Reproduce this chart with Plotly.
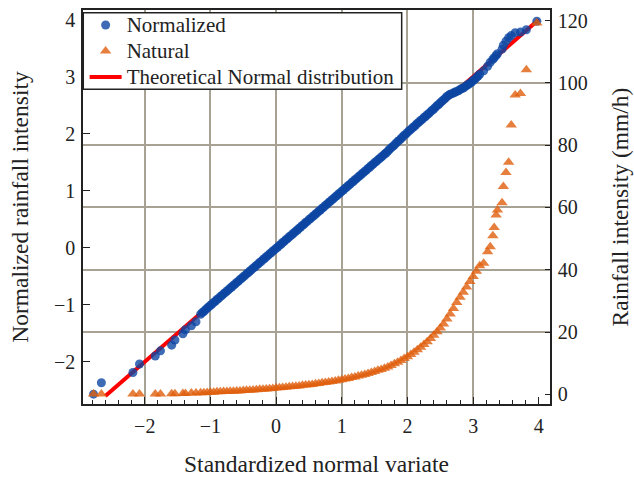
import plotly.graph_objects as go

# ---------------- data ----------------
# standardized normal variate positions
z_low = [-2.78, -2.66, -2.18, -2.08, -1.84, -1.76, -1.59, -1.54, -1.42, -1.38, -1.29, -1.22]
z_high = [3.16, 3.22, 3.26, 3.30, 3.32, 3.35, 3.37, 3.44, 3.46, 3.50,
          3.54, 3.58, 3.64, 3.72, 3.81, 3.97]

z_dense_norm = [-1.150, -1.125, -1.100, -1.075, -1.050, -1.025, -1.000, -0.975, -0.950, -0.925,
                -0.900, -0.875, -0.850, -0.825, -0.800, -0.775, -0.750, -0.725, -0.700, -0.675,
                -0.650, -0.625, -0.600, -0.575, -0.550, -0.525, -0.500, -0.475, -0.450, -0.425,
                -0.400, -0.375, -0.350, -0.325, -0.300, -0.275, -0.250, -0.225, -0.200, -0.175,
                -0.150, -0.125, -0.100, -0.075, -0.050, -0.025, 0.000, 0.025, 0.050, 0.075,
                0.100, 0.125, 0.150, 0.175, 0.200, 0.225, 0.250, 0.275, 0.300, 0.325,
                0.350, 0.375, 0.400, 0.425, 0.450, 0.475, 0.500, 0.525, 0.550, 0.575,
                0.600, 0.625, 0.650, 0.675, 0.700, 0.725, 0.750, 0.775, 0.800, 0.825,
                0.850, 0.875, 0.900, 0.925, 0.950, 0.975, 1.000, 1.025, 1.050, 1.075,
                1.100, 1.125, 1.150, 1.175, 1.200, 1.225, 1.250, 1.275, 1.300, 1.325,
                1.350, 1.375, 1.400, 1.425, 1.450, 1.475, 1.500, 1.525, 1.550, 1.575,
                1.600, 1.625, 1.650, 1.675, 1.700, 1.725, 1.750, 1.775, 1.800, 1.825,
                1.850, 1.875, 1.900, 1.925, 1.950, 1.975, 2.000, 2.025, 2.050, 2.075,
                2.100, 2.125, 2.150, 2.175, 2.200, 2.225, 2.250, 2.275, 2.300, 2.325,
                2.350, 2.375, 2.400, 2.425, 2.450, 2.475, 2.500, 2.525, 2.550, 2.575,
                2.600, 2.625, 2.650, 2.675, 2.700, 2.725, 2.750, 2.775, 2.800, 2.825,
                2.850, 2.875, 2.900, 2.925, 2.950, 2.975, 3.000, 3.025, 3.050, 3.075, 3.100]

z_dense_nat = [-1.15, -1.10, -1.05, -1.00, -0.95, -0.90, -0.85, -0.80, -0.75, -0.70,
               -0.65, -0.60, -0.55, -0.50, -0.45, -0.40, -0.35, -0.30, -0.25, -0.20,
               -0.15, -0.10, -0.05, 0.00, 0.05, 0.10, 0.15, 0.20, 0.25, 0.30,
               0.35, 0.40, 0.45, 0.50, 0.55, 0.60, 0.65, 0.70, 0.75, 0.80,
               0.85, 0.90, 0.95, 1.00, 1.05, 1.10, 1.15, 1.20, 1.25, 1.30,
               1.35, 1.40, 1.45, 1.50, 1.55, 1.60, 1.65, 1.70, 1.75, 1.80,
               1.85, 1.90, 1.95, 2.00, 2.05, 2.10, 2.15, 2.20, 2.25, 2.30,
               2.35, 2.40, 2.45, 2.50, 2.55, 2.60, 2.65, 2.70, 2.75, 2.80,
               2.85, 2.90, 2.95, 3.00, 3.05, 3.10]

# normalized rainfall intensity (left axis)
norm_low = [-2.57, -2.37, -2.19, -2.04, -1.90, -1.81, -1.71, -1.62, -1.51, -1.44, -1.37, -1.30]
norm_dense = [-1.17, -1.14, -1.12, -1.09, -1.06, -1.04, -1.01, -0.99, -0.96, -0.94,
              -0.91, -0.89, -0.86, -0.84, -0.81, -0.79, -0.76, -0.74, -0.71, -0.69,
              -0.66, -0.64, -0.61, -0.59, -0.56, -0.54, -0.51, -0.49, -0.46, -0.44,
              -0.41, -0.39, -0.36, -0.34, -0.31, -0.29, -0.26, -0.24, -0.21, -0.19,
              -0.16, -0.14, -0.11, -0.09, -0.06, -0.04, -0.01, 0.01, 0.04, 0.06,
              0.09, 0.11, 0.14, 0.16, 0.19, 0.21, 0.24, 0.26, 0.29, 0.31,
              0.34, 0.36, 0.39, 0.41, 0.44, 0.46, 0.49, 0.51, 0.54, 0.56,
              0.59, 0.61, 0.64, 0.66, 0.69, 0.71, 0.74, 0.76, 0.79, 0.81,
              0.84, 0.86, 0.89, 0.91, 0.94, 0.96, 0.99, 1.01, 1.04, 1.06,
              1.09, 1.11, 1.14, 1.16, 1.19, 1.21, 1.24, 1.26, 1.29, 1.31,
              1.34, 1.36, 1.39, 1.41, 1.44, 1.46, 1.49, 1.51, 1.54, 1.56,
              1.59, 1.61, 1.64, 1.66, 1.69, 1.72, 1.75, 1.77, 1.80, 1.83,
              1.86, 1.88, 1.91, 1.94, 1.97, 1.99, 2.02, 2.05, 2.07, 2.10,
              2.12, 2.15, 2.18, 2.20, 2.23, 2.25, 2.28, 2.30, 2.33, 2.35,
              2.38, 2.41, 2.43, 2.46, 2.49, 2.51, 2.54, 2.57, 2.59, 2.62,
              2.65, 2.67, 2.69, 2.70, 2.71, 2.73, 2.74, 2.75, 2.77, 2.79,
              2.80, 2.82, 2.84, 2.86, 2.88, 2.90, 2.93, 2.95, 2.98, 3.01, 3.04]
norm_high = [3.10, 3.18, 3.25, 3.30, 3.33, 3.37, 3.40, 3.48, 3.55, 3.62,
             3.68, 3.72, 3.77, 3.78, 3.82, 3.97]

# natural rainfall intensity, mm/h (right axis)
nat_low = [0.1, 0.1, 0.1, 0.1, 0.1, 0.1, 0.2, 0.2, 0.3, 0.3, 0.4, 0.4]
nat_dense = [0.5, 0.5, 0.6, 0.7, 0.7, 0.8, 0.8, 0.9, 0.9, 1.0,
             1.0, 1.1, 1.1, 1.2, 1.3, 1.3, 1.4, 1.5, 1.6, 1.6,
             1.7, 1.8, 1.9, 2.0, 2.1, 2.2, 2.3, 2.4, 2.5, 2.6,
             2.7, 2.9, 3.0, 3.1, 3.2, 3.4, 3.5, 3.7, 3.8, 4.0,
             4.1, 4.3, 4.5, 4.7, 4.9, 5.1, 5.4, 5.6, 5.9, 6.1,
             6.4, 6.7, 7.0, 7.3, 7.7, 8.0, 8.4, 8.8, 9.3, 9.8,
             10.3, 10.9, 11.5, 12.1, 12.8, 13.5, 14.3, 15.1, 16.0, 16.9,
             17.9, 19.0, 20.1, 21.3, 22.6, 24.2, 25.8, 27.6, 29.5, 31.2,
             32.8, 34.5, 36.2, 37.8, 39.5, 41.3]
nat_high = [42.1, 45.8, 47.4, 50.9, 53.6, 57.6, 59.2, 61.5, 66.7, 71.2,
            74.5, 86.5, 96.1, 96.6, 104.2, 119.2]

theory_x = [-2.6, 4.0]
theory_y = [-2.6, 4.0]

x_ticks = [-2, -1, 0, 1, 2, 3, 4]
x_grid = [-2, -1, 0, 1, 2, 3]
y_ticks = [-2, -1, 0, 1, 2, 3, 4]
y2_ticks = [0, 20, 40, 60, 80, 100, 120]
y2_grid = [20, 40, 60, 80, 100]

# ---------------- figure ----------------
FONT = "Liberation Serif"
INK = "#222222"
GRID = "#a8a295"

X_RANGE = [-2.94, 4.17]
Y_RANGE = [-2.742, 4.167]
Y2_RANGE = [-3.1, 123.4]

fig = go.Figure()

fig.add_trace(go.Scatter(
    x=theory_x, y=theory_y, mode="lines",
    name='<span style="font-size:21px">Theoretical Normal distribution</span>',
    line=dict(color="#ff0000", width=4), legendrank=3))

fig.add_trace(go.Scatter(
    x=z_low + z_dense_norm + z_high, y=norm_low + norm_dense + norm_high, mode="markers",
    name='<span style="font-size:21px">Normalized</span>',
    marker=dict(symbol="circle", size=9, color="#0c46a3", opacity=0.8, line=dict(width=0)),
    legendrank=1))

fig.add_trace(go.Scatter(
    x=z_low + z_dense_nat + z_high, y=nat_low + nat_dense + nat_high, mode="markers",
    name='<span style="font-size:21px">Natural</span>', yaxis="y2",
    marker=dict(symbol="triangle-up", size=10, color="#e05f0c", opacity=0.8, line=dict(width=0)),
    legendrank=2))

# empty trace hosting the grid-only overlay axes
fig.add_trace(go.Scatter(x=[], y=[], xaxis="x3", yaxis="y3", showlegend=False, hoverinfo="skip"))

fig.update_layout(
    template="none",
    width=634, height=481,
    margin=dict(l=83, r=84, t=10, b=77, autoexpand=False),
    paper_bgcolor="white", plot_bgcolor="white",
    font=dict(family=FONT, size=20, color=INK),
    showlegend=True,
    legend=dict(x=0.0035, y=1.0076, xanchor="left", yanchor="top",
                bgcolor="rgba(0,0,0,0)", borderwidth=0,
                font=dict(family=FONT, size=17.7, color=INK),
                tracegroupgap=0, itemwidth=32),
    # opaque legend frame
    shapes=[dict(type="rect", xref="paper", yref="paper",
                 x0=0.0006, x1=0.6824, y0=0.7987, y1=0.9932,
                 line=dict(color=INK, width=1.5), fillcolor="white", layer="above")],
    xaxis=dict(range=X_RANGE, tickvals=x_ticks, ticks="inside", ticklen=7, tickwidth=1.3,
               tickcolor=INK, showline=True, linecolor=INK, linewidth=1.5, mirror=True,
               showgrid=False, zeroline=False, automargin=False,
               minor=dict(ticks="inside", ticklen=4, tickwidth=1.1, tickcolor=INK,
                          dtick=0.2, tick0=0, showgrid=False),
               title=dict(text="Standardized normal variate", font=dict(size=23.5), standoff=20),
               tickfont=dict(size=20), ticklabelstandoff=3),
    yaxis=dict(range=Y_RANGE, tickvals=y_ticks, ticks="inside", ticklen=7, tickwidth=1.3,
               tickcolor=INK, showline=True, linecolor=INK, linewidth=1.5,
               showgrid=False, zeroline=False, automargin=False,
               title=dict(text="Normalized rainfall intensity", font=dict(size=23.5), standoff=19),
               tickfont=dict(size=20), ticklabelstandoff=2),
    yaxis2=dict(range=Y2_RANGE, tickvals=y2_ticks, overlaying="y", side="right", anchor="x",
                ticks="inside", ticklen=5, tickwidth=1.3, tickcolor=INK,
                showline=True, linecolor=INK, linewidth=1.5,
                showgrid=False, zeroline=False, automargin=False,
                title=dict(text="Rainfall intensity (mm/h)", font=dict(size=23.5), standoff=25),
                tickfont=dict(size=20), ticklabelstandoff=2),
    xaxis3=dict(range=X_RANGE, overlaying="x", anchor="y3", tickvals=x_grid, showgrid=True,
                gridcolor=GRID, gridwidth=2, showticklabels=False, ticks="",
                showline=False, zeroline=False, automargin=False),
    yaxis3=dict(range=Y2_RANGE, overlaying="y", anchor="x3", side="right", tickvals=y2_grid,
                showgrid=True, gridcolor=GRID, gridwidth=2, showticklabels=False, ticks="",
                showline=False, zeroline=False, automargin=False),
)

fig.write_html("out.html")
